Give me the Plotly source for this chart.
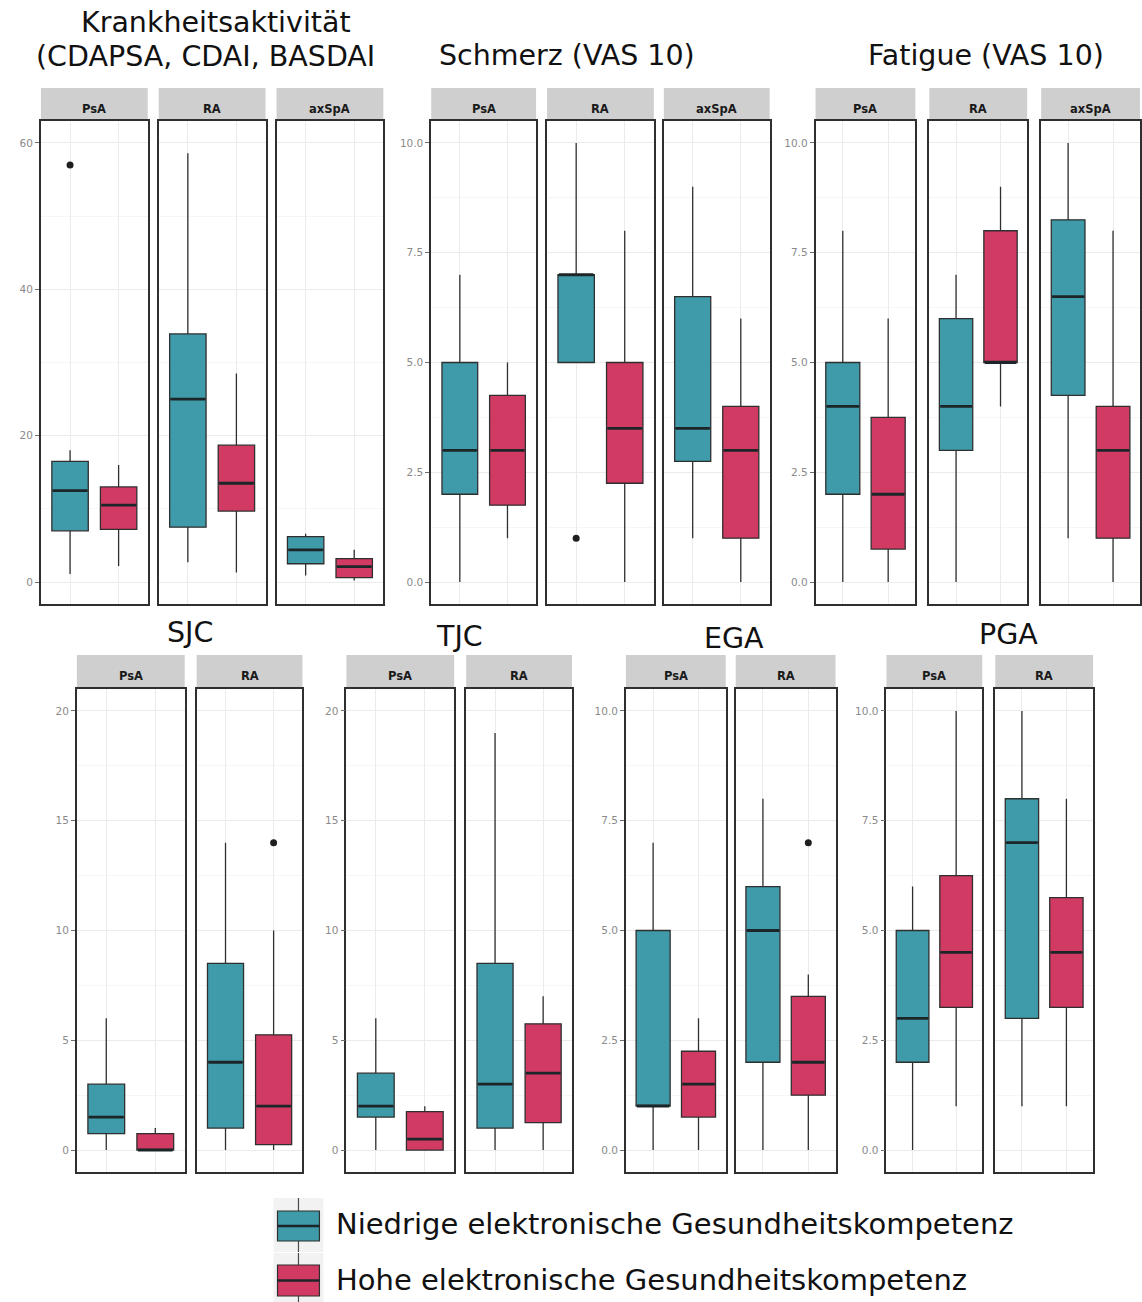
import plotly.graph_objects as go

W, H = 1142, 1302

LOW_NAME = "Niedrige elektronische Gesundheitskompetenz"
HIGH_NAME = "Hohe elektronische Gesundheitskompetenz"
LOW_FILL = "#3f9aa9"
HIGH_FILL = "#d13a62"
EDGE = "#2f2f2f"
FONT = "DejaVu Sans"

# Five-number summaries per facet: lower whisker, Q1, median, Q3, upper whisker
# Krankheitsaktivität (CDAPSA, CDAI, BASDAI)
ka_facets = ["PsA", "RA", "axSpA"]
ka_low = [[1.1, 7.0, 12.5, 16.5, 18.0], [2.7, 7.5, 25.0, 33.9, 58.6], [0.9, 2.5, 4.4, 6.2, 6.6]]
ka_high = [[2.2, 7.2, 10.5, 13.0, 16.0], [1.3, 9.7, 13.5, 18.7, 28.5], [0.2, 0.6, 2.1, 3.2, 4.4]]
ka_low_out = [[57.0], [], []]
ka_high_out = [[], [], []]

# Schmerz (VAS 10)
sz_facets = ["PsA", "RA", "axSpA"]
sz_low = [[0, 2, 3, 5, 7], [5, 5, 7, 7, 10], [1, 2.75, 3.5, 6.5, 9]]
sz_high = [[1, 1.75, 3, 4.25, 5], [0, 2.25, 3.5, 5, 8], [0, 1, 3, 4, 6]]
sz_low_out = [[], [1.0], []]
sz_high_out = [[], [], []]

# Fatigue (VAS 10)
fa_facets = ["PsA", "RA", "axSpA"]
fa_low = [[0, 2, 4, 5, 8], [0, 3, 4, 6, 7], [1, 4.25, 6.5, 8.25, 10]]
fa_high = [[0, 0.75, 2, 3.75, 6], [4, 5, 5, 8, 9], [0, 1, 3, 4, 8]]
fa_low_out = [[], [], []]
fa_high_out = [[], [], []]

# SJC
sjc_facets = ["PsA", "RA"]
sjc_low = [[0, 0.75, 1.5, 3, 6], [0, 1, 4, 8.5, 14]]
sjc_high = [[0, 0, 0, 0.75, 1], [0, 0.25, 2, 5.25, 10]]
sjc_low_out = [[], []]
sjc_high_out = [[], [14]]

# TJC
tjc_facets = ["PsA", "RA"]
tjc_low = [[0, 1.5, 2, 3.5, 6], [0, 1, 3, 8.5, 19]]
tjc_high = [[0, 0, 0.5, 1.75, 2], [0, 1.25, 3.5, 5.75, 7]]
tjc_low_out = [[], []]
tjc_high_out = [[], []]

# EGA
ega_facets = ["PsA", "RA"]
ega_low = [[0, 1, 1, 5, 7], [0, 2, 5, 6, 8]]
ega_high = [[0, 0.75, 1.5, 2.25, 3], [0, 1.25, 2, 3.5, 4]]
ega_low_out = [[], []]
ega_high_out = [[], [7]]

# PGA
pga_facets = ["PsA", "RA"]
pga_low = [[0, 2, 3, 5, 6], [1, 3, 7, 8, 10]]
pga_high = [[1, 3.25, 4.5, 6.25, 10], [1, 3.25, 4.5, 5.75, 8]]
pga_low_out = [[], []]
pga_high_out = [[], []]


def fx(p):
    return p / W


def fy(p):
    return 1 - p / H


TOP = dict(plot=(121, 604), strip=(88, 121))
BOTTOM = dict(plot=(689, 1172), strip=(655, 688))

panels = [
    dict(facets=ka_facets, low=ka_low, high=ka_high, low_out=ka_low_out, high_out=ka_high_out,
         dtick=20, fmt="d", yrange=[-3, 63], row=TOP,
         cols=[(41, 148), (159, 266), (277, 384)]),
    dict(facets=sz_facets, low=sz_low, high=sz_high, low_out=sz_low_out, high_out=sz_high_out,
         dtick=2.5, fmt=".1f", yrange=[-0.5, 10.5], row=TOP,
         cols=[(432, 537), (548, 655), (665, 771)]),
    dict(facets=fa_facets, low=fa_low, high=fa_high, low_out=fa_low_out, high_out=fa_high_out,
         dtick=2.5, fmt=".1f", yrange=[-0.5, 10.5], row=TOP,
         cols=[(817, 917), (931, 1029), (1043, 1142)]),
    dict(facets=sjc_facets, low=sjc_low, high=sjc_high, low_out=sjc_low_out, high_out=sjc_high_out,
         dtick=5, fmt="d", yrange=[-1, 21], row=BOTTOM,
         cols=[(77, 185), (197, 303)]),
    dict(facets=tjc_facets, low=tjc_low, high=tjc_high, low_out=tjc_low_out, high_out=tjc_high_out,
         dtick=5, fmt="d", yrange=[-1, 21], row=BOTTOM,
         cols=[(347, 455), (467, 573)]),
    dict(facets=ega_facets, low=ega_low, high=ega_high, low_out=ega_low_out, high_out=ega_high_out,
         dtick=2.5, fmt=".1f", yrange=[-0.5, 10.5], row=BOTTOM,
         cols=[(627, 727), (737, 837)]),
    dict(facets=pga_facets, low=pga_low, high=pga_high, low_out=pga_low_out, high_out=pga_high_out,
         dtick=2.5, fmt=".1f", yrange=[-0.5, 10.5], row=BOTTOM,
         cols=[(888, 984), (997, 1095)]),
]

titles = [
    ("Krankheitsaktivität", 216, 22, "center"),
    ("(CDAPSA, CDAI, BASDAI", 34, 57, "left"),
    ("Schmerz (VAS 10)", 568, 55, "center"),
    ("Fatigue (VAS 10)", 988, 55, "center"),
    ("SJC", 190, 632, "center"),
    ("TJC", 460, 636, "center"),
    ("EGA", 735, 638, "center"),
    ("PGA", 1010, 634, "center"),
]

fig = go.Figure()
layout = dict(shapes=[], annotations=[])

BOX_W = 0.75
idx = 0
for panel in panels:
    row = panel["row"]
    for k, (facet, (x0, x1)) in enumerate(zip(panel["facets"], panel["cols"])):
        idx += 1
        xa = "x" if idx == 1 else f"x{idx}"
        ya = "y" if idx == 1 else f"y{idx}"
        xkey = "xaxis" if idx == 1 else f"xaxis{idx}"
        ykey = "yaxis" if idx == 1 else f"yaxis{idx}"
        first = k == 0

        layout[xkey] = dict(
            domain=[fx(x0), min(fx(x1), 1.0)], anchor=ya, range=[0.4, 2.6],
            tickmode="array", tickvals=[1, 2], showticklabels=False, ticks="",
            showgrid=True, gridcolor="#ebebeb", gridwidth=1, zeroline=False,
            showline=True, mirror=True, linecolor=EDGE, linewidth=1.7,
        )
        layout[ykey] = dict(
            domain=[fy(row["plot"][1]), fy(row["plot"][0])], anchor=xa,
            range=panel["yrange"], tickmode="linear", tick0=0, dtick=panel["dtick"],
            tickformat=panel["fmt"], showticklabels=first,
            ticks="outside" if first else "", ticklen=4, tickwidth=1, tickcolor="#6e6e6e",
            tickfont=dict(family=FONT, size=10.5, color="#8a8a8a"),
            showgrid=True, gridcolor="#ebebeb", gridwidth=1, zeroline=False,
            minor=dict(dtick=panel["dtick"] / 2, tick0=0, showgrid=True,
                       gridcolor="#f6f6f6", gridwidth=0.8, ticks=""),
            showline=True, mirror=True, linecolor=EDGE, linewidth=1.7,
        )

        # facet strip
        layout["shapes"].append(dict(
            type="rect", xref="paper", yref="paper",
            x0=fx(x0), x1=min(fx(x1), 1.0), y0=fy(row["strip"][1]), y1=fy(row["strip"][0]),
            fillcolor="#cfcfcf", line=dict(width=0), layer="below",
        ))
        layout["annotations"].append(dict(
            text=f"<b>{facet}</b>", xref="paper", yref="paper",
            x=(fx(x0) + min(fx(x1), 1.0)) / 2, y=fy((row["strip"][0] + row["strip"][1]) / 2 + 4),
            showarrow=False, xanchor="center", yanchor="middle",
            font=dict(family=FONT, size=11.5, color="#1a1a1a"),
        ))

        for pos, stats, outs, fill in (
            (1, panel["low"][k], panel["low_out"][k], LOW_FILL),
            (2, panel["high"][k], panel["high_out"][k], HIGH_FILL),
        ):
            lo, q1, med, q3, hi = stats
            fig.add_trace(go.Box(
                x=[pos], q1=[q1], median=[med], q3=[q3], lowerfence=[lo], upperfence=[hi],
                width=BOX_W, whiskerwidth=0, boxpoints=False, fillcolor=fill,
                line=dict(color=EDGE, width=1.3), xaxis=xa, yaxis=ya,
                showlegend=False, hoverinfo="skip",
            ))
            # heavier median bar
            fig.add_trace(go.Scatter(
                x=[pos - BOX_W / 2 + 0.02, pos + BOX_W / 2 - 0.02], y=[med, med], mode="lines",
                line=dict(color="#1c2629", width=2.8), xaxis=xa, yaxis=ya,
                showlegend=False, hoverinfo="skip",
            ))
            if outs:
                fig.add_trace(go.Scatter(
                    x=[pos] * len(outs), y=outs, mode="markers",
                    marker=dict(color="#1f1f1f", size=7), xaxis=xa, yaxis=ya,
                    showlegend=False, hoverinfo="skip",
                ))

for text, x, y, anchor in titles:
    layout["annotations"].append(dict(
        text=text, xref="paper", yref="paper", x=fx(x), y=fy(y),
        showarrow=False, xanchor=anchor, yanchor="middle",
        font=dict(family=FONT, size=28.5, color="#111111"),
    ))

# legend drawn as boxplot keys with labels
legend_rows = [(LOW_NAME, LOW_FILL, 1198, 1211, 1241, 1252, 1224),
               (HIGH_NAME, HIGH_FILL, 1253, 1265, 1296, 1302, 1280)]
for name, fill, wtop, btop, bbot, wbot, ty in legend_rows:
    kx0, kx1 = 278, 320
    kc = (kx0 + kx1) / 2
    layout["shapes"].append(dict(type="rect", xref="paper", yref="paper",
                                 x0=fx(kx0 - 4), x1=fx(kx1 + 4), y0=fy(wbot), y1=fy(wtop),
                                 fillcolor="#f2f2f2", line=dict(width=0), layer="below"))
    layout["shapes"].append(dict(type="line", xref="paper", yref="paper",
                                 x0=fx(kc), x1=fx(kc), y0=fy(wbot), y1=fy(wtop),
                                 line=dict(color="#4a4a4a", width=1.2)))
    layout["shapes"].append(dict(type="rect", xref="paper", yref="paper",
                                 x0=fx(kx0), x1=fx(kx1), y0=fy(bbot), y1=fy(btop),
                                 fillcolor=fill, line=dict(color=EDGE, width=1.2)))
    layout["shapes"].append(dict(type="line", xref="paper", yref="paper",
                                 x0=fx(kx0), x1=fx(kx1), y0=fy((btop + bbot) / 2), y1=fy((btop + bbot) / 2),
                                 line=dict(color="#1c2629", width=2.5)))
    layout["annotations"].append(dict(
        text=name, xref="paper", yref="paper", x=fx(335), y=fy(ty),
        showarrow=False, xanchor="left", yanchor="middle",
        font=dict(family=FONT, size=29, color="#111111"),
    ))

fig.update_layout(
    width=W, height=H, autosize=False,
    margin=dict(l=0, r=0, t=0, b=0),
    paper_bgcolor="white", plot_bgcolor="white",
    boxmode="overlay", showlegend=False,
    **layout,
)

fig.write_html("out.html")
